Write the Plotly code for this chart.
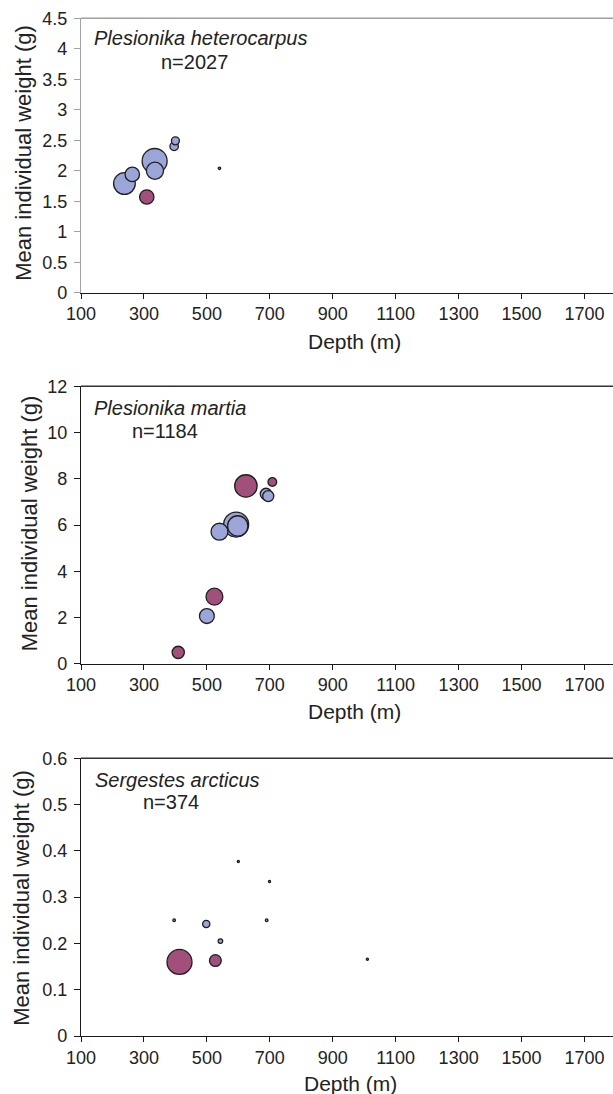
import plotly.graph_objects as go

# ---------------- data ----------------
# Panel 1: Plesionika heterocarpus (n=2027)
ph_depth = [238, 263, 309, 334, 335, 396, 400, 540]
ph_weight = [1.79, 1.94, 1.57, 2.16, 2.00, 2.40, 2.49, 2.04]
ph_count = [490, 215, 215, 652, 308, 75, 66, 6]
ph_group = ["A", "A", "B", "A", "A", "A", "A", "A"]

# Panel 2: Plesionika martia (n=1184)
pm_depth = [409, 500, 524, 540, 593, 598, 624, 688, 695, 708]
pm_weight = [0.49, 2.06, 2.90, 5.71, 6.02, 5.96, 7.69, 7.34, 7.25, 7.86]
pm_count = [63, 93, 120, 120, 263, 174, 211, 56, 52, 32]
pm_group = ["B", "A", "B", "A", "A", "A", "B", "A", "A", "B"]

# Panel 3: Sergestes arcticus (n=374)
sa_depth = [413, 527, 498, 543, 396, 600, 699, 690, 1010]
sa_weight = [0.160, 0.163, 0.242, 0.205, 0.250, 0.377, 0.334, 0.250, 0.166]
sa_count = [270, 60, 23, 9, 3, 2, 2, 3, 2]
sa_group = ["B", "B", "A", "A", "A", "A", "A", "A", "A"]

species = ["Plesionika heterocarpus", "Plesionika martia", "Sergestes arcticus"]
n_labels = ["n=2027", "n=1184", "n=374"]
y_ranges = [[0, 4.5], [0, 12], [0, 0.6]]
y_dticks = [0.5, 2, 0.1]
x_ticks = [100, 300, 500, 700, 900, 1100, 1300, 1500, 1700]

panels = [
    (ph_depth, ph_weight, ph_count, ph_group),
    (pm_depth, pm_weight, pm_count, pm_group),
    (sa_depth, sa_weight, sa_count, sa_group),
]

# ---------------- layout geometry (pixels) ----------------
W, H = 613, 1094
FONT = "Liberation Sans, Arial, sans-serif"
TXT = "#222222"
x_left_px = 81
tops = [18.3, 386.3, 758.3]
bottoms = [292.7, 663.7, 1036.0]
fill_colors = {"A": "#9ba5d7", "B": "#a0507a"}
MAX_DIAM = 25

def px(x):
    return x / W

def py(y):
    return 1 - y / H

fig = go.Figure()
layout = dict(
    width=W, height=H, margin=dict(l=0, r=0, t=0, b=0, autoexpand=False),
    paper_bgcolor="white", plot_bgcolor="white", showlegend=False,
    font=dict(family=FONT, color=TXT, size=18),
)
annotations = []
shapes = []

axis_colors = [("#a0a0a0", "#1a1a1a"), ("#1a1a1a", "#1a1a1a"), ("#1a1a1a", "#1a1a1a")]
ytitle_x = [23.5, 29.0, 21.5]
ytitle_y = [153.3, 523.3, 898.3]
xtitle_y = [341.7, 711.7, 1083.3]
xtitle_x = [354, 354.6, 350.7]
sp_pos = [(92, 38.3), (92, 408.3), (92.7, 780)]
n_pos = [(194, 61.7), (165.4, 430.7), (170.8, 802.3)]

for i, (dep, wt, cnt, grp) in enumerate(panels):
    xa = "x" if i == 0 else f"x{i+1}"
    ya = "y" if i == 0 else f"y{i+1}"
    sizeref = 2.0 * max(cnt) / (MAX_DIAM ** 2)
    for g in ["B", "A"]:
        idx = [k for k in range(len(dep)) if grp[k] == g]
        idx.sort(key=lambda k: -cnt[k])
        if not idx:
            continue
        fig.add_trace(go.Scatter(
            x=[dep[k] for k in idx], y=[wt[k] for k in idx],
            mode="markers", xaxis=xa, yaxis=ya,
            marker=dict(
                size=[cnt[k] for k in idx], sizemode="area", sizeref=sizeref,
                color=fill_colors[g], opacity=1,
                line=dict(color="#1e1e1e", width=1.3),
            ),
            hoverinfo="x+y",
        ))
    ycol, xcol = axis_colors[i]
    layout["xaxis" if i == 0 else f"xaxis{i+1}"] = dict(
        domain=[px(x_left_px), 1], range=[100, 100 + (W - x_left_px) / 0.3147],
        anchor=ya, tickmode="array", tickvals=x_ticks,
        ticktext=[str(v) for v in x_ticks], automargin=False,
        showline=True, linecolor=xcol, linewidth=1.3,
        ticks="outside", ticklen=5, tickcolor=xcol, tickwidth=1.2,
        showgrid=False, zeroline=False,
        tickfont=dict(size=18, family=FONT, color=TXT),
    )
    layout["yaxis" if i == 0 else f"yaxis{i+1}"] = dict(
        domain=[py(bottoms[i]), py(tops[i])], range=y_ranges[i],
        anchor=xa, dtick=y_dticks[i], tick0=0, automargin=False,
        showline=True, linecolor=ycol, linewidth=1.3,
        ticks="outside", ticklen=6, tickcolor=ycol, tickwidth=1.2,
        showgrid=False, zeroline=False, ticklabelstandoff=3,
        tickfont=dict(size=18, family=FONT, color=TXT),
    )
    # top border
    shapes.append(dict(type="line", xref="paper", yref="paper",
                       x0=px(x_left_px), x1=1, y0=py(tops[i]), y1=py(tops[i]),
                       line=dict(color=ycol if i == 0 else "#333333", width=1.6)))
    # axis titles
    annotations.append(dict(text="Mean individual weight (g)", textangle=-90,
                            xref="paper", yref="paper", x=px(ytitle_x[i]), y=py(ytitle_y[i]),
                            xanchor="center", yanchor="middle", showarrow=False,
                            font=dict(size=22, family=FONT, color=TXT)))
    annotations.append(dict(text="Depth (m)", xref="paper", yref="paper",
                            x=px(xtitle_x[i]), y=py(xtitle_y[i]),
                            xanchor="center", yanchor="middle", showarrow=False,
                            font=dict(size=21, family=FONT, color=TXT)))
    annotations.append(dict(text=f"<i>{species[i]}</i>", xref="paper", yref="paper",
                            x=px(sp_pos[i][0]), y=py(sp_pos[i][1]),
                            xanchor="left", yanchor="middle", showarrow=False,
                            font=dict(size=20, family=FONT, color=TXT)))
    annotations.append(dict(text=n_labels[i], xref="paper", yref="paper",
                            x=px(n_pos[i][0]), y=py(n_pos[i][1]),
                            xanchor="center", yanchor="middle", showarrow=False,
                            font=dict(size=20, family=FONT, color=TXT)))

layout["annotations"] = annotations
layout["shapes"] = shapes
fig.update_layout(**layout)
fig.write_html("out.html")
